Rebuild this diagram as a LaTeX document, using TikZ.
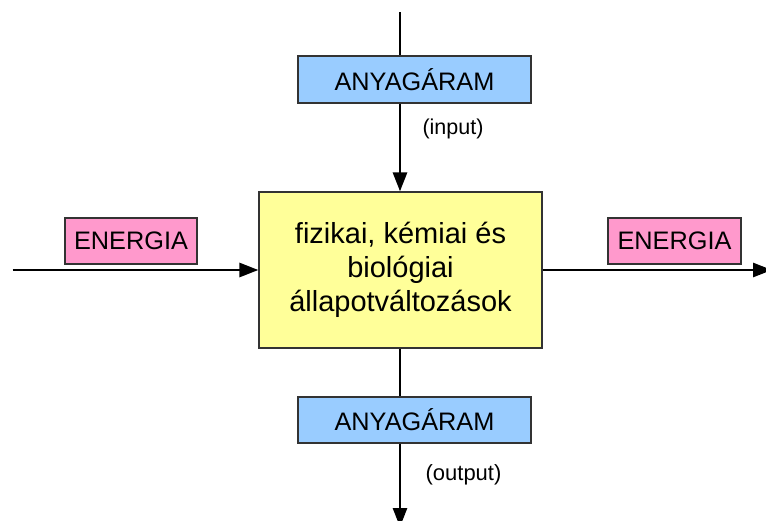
\documentclass[tikz,border=0pt]{standalone}
\usepackage{fontspec}
\setmainfont{Liberation Sans}
\usetikzlibrary{arrows.meta}
\definecolor{boxblue}{HTML}{99CCFF}
\definecolor{boxpink}{HTML}{FF99CC}
\definecolor{boxyellow}{HTML}{FFFF99}
\definecolor{edgegray}{HTML}{333333}
\tikzset{
  flowbox/.style={draw=edgegray, line width=1.2pt, rectangle, inner sep=0pt, anchor=center},
  flowline/.style={line width=2.8pt, -{Triangle[length=19pt,width=14pt]}},
  plainline/.style={line width=2.8pt},
  lbl/.style={font=\fontsize{21.5}{24}\selectfont, inner sep=0pt}
}
\begin{document}
\begin{tikzpicture}[x=1pt,y=-1pt]
\useasboundingbox (0,0) rectangle (766,520);
% nodes
\node[flowbox, fill=boxyellow, minimum width=283pt, minimum height=156pt, align=center,
      font=\fontsize{29}{34}\selectfont] (proc) at (400.5,270) {fizikai, kémiai és\\biológiai\\állapotváltozások};
\node[flowbox, fill=boxblue, minimum width=233pt, minimum height=47pt,
      font=\fontsize{25.3}{28}\selectfont] (inbox) at (414.5,79.5) {ANYAGÁRAM};
\node[flowbox, fill=boxblue, minimum width=233pt, minimum height=46pt,
      font=\fontsize{25.3}{28}\selectfont] (outbox) at (414.5,420) {ANYAGÁRAM};
\node[flowbox, fill=boxpink, minimum width=132pt, minimum height=46pt,
      font=\fontsize{25.3}{28}\selectfont] (enin) at (131,241) {ENERGIA};
\node[flowbox, fill=boxpink, minimum width=133pt, minimum height=46pt,
      font=\fontsize{25.3}{28}\selectfont] (enout) at (674.5,241) {ENERGIA};
\node[lbl] (inlbl) at (453,129) {(input)};
\node[lbl, font=\fontsize{22}{24}\selectfont] (outlbl) at (463.5,475) {(output)};
% coordinates
\coordinate (topstart) at (400,12);
\coordinate (leftstart) at (12.5,270);
\coordinate (rightend) at (772,270);
\coordinate (bottomend) at (400,527);
% connectors
\draw[plainline] (topstart) -- (inbox.north -| topstart);
\draw[flowline] (inbox.south -| topstart) -- (proc.north -| topstart);
\draw[flowline] (leftstart) -- (proc.west |- leftstart);
\draw[flowline] (proc.east |- leftstart) -- (rightend);
\draw[plainline] (proc.south -| topstart) -- (outbox.north -| topstart);
\draw[flowline] (outbox.south -| topstart) -- (bottomend);
\end{tikzpicture}
\end{document}
